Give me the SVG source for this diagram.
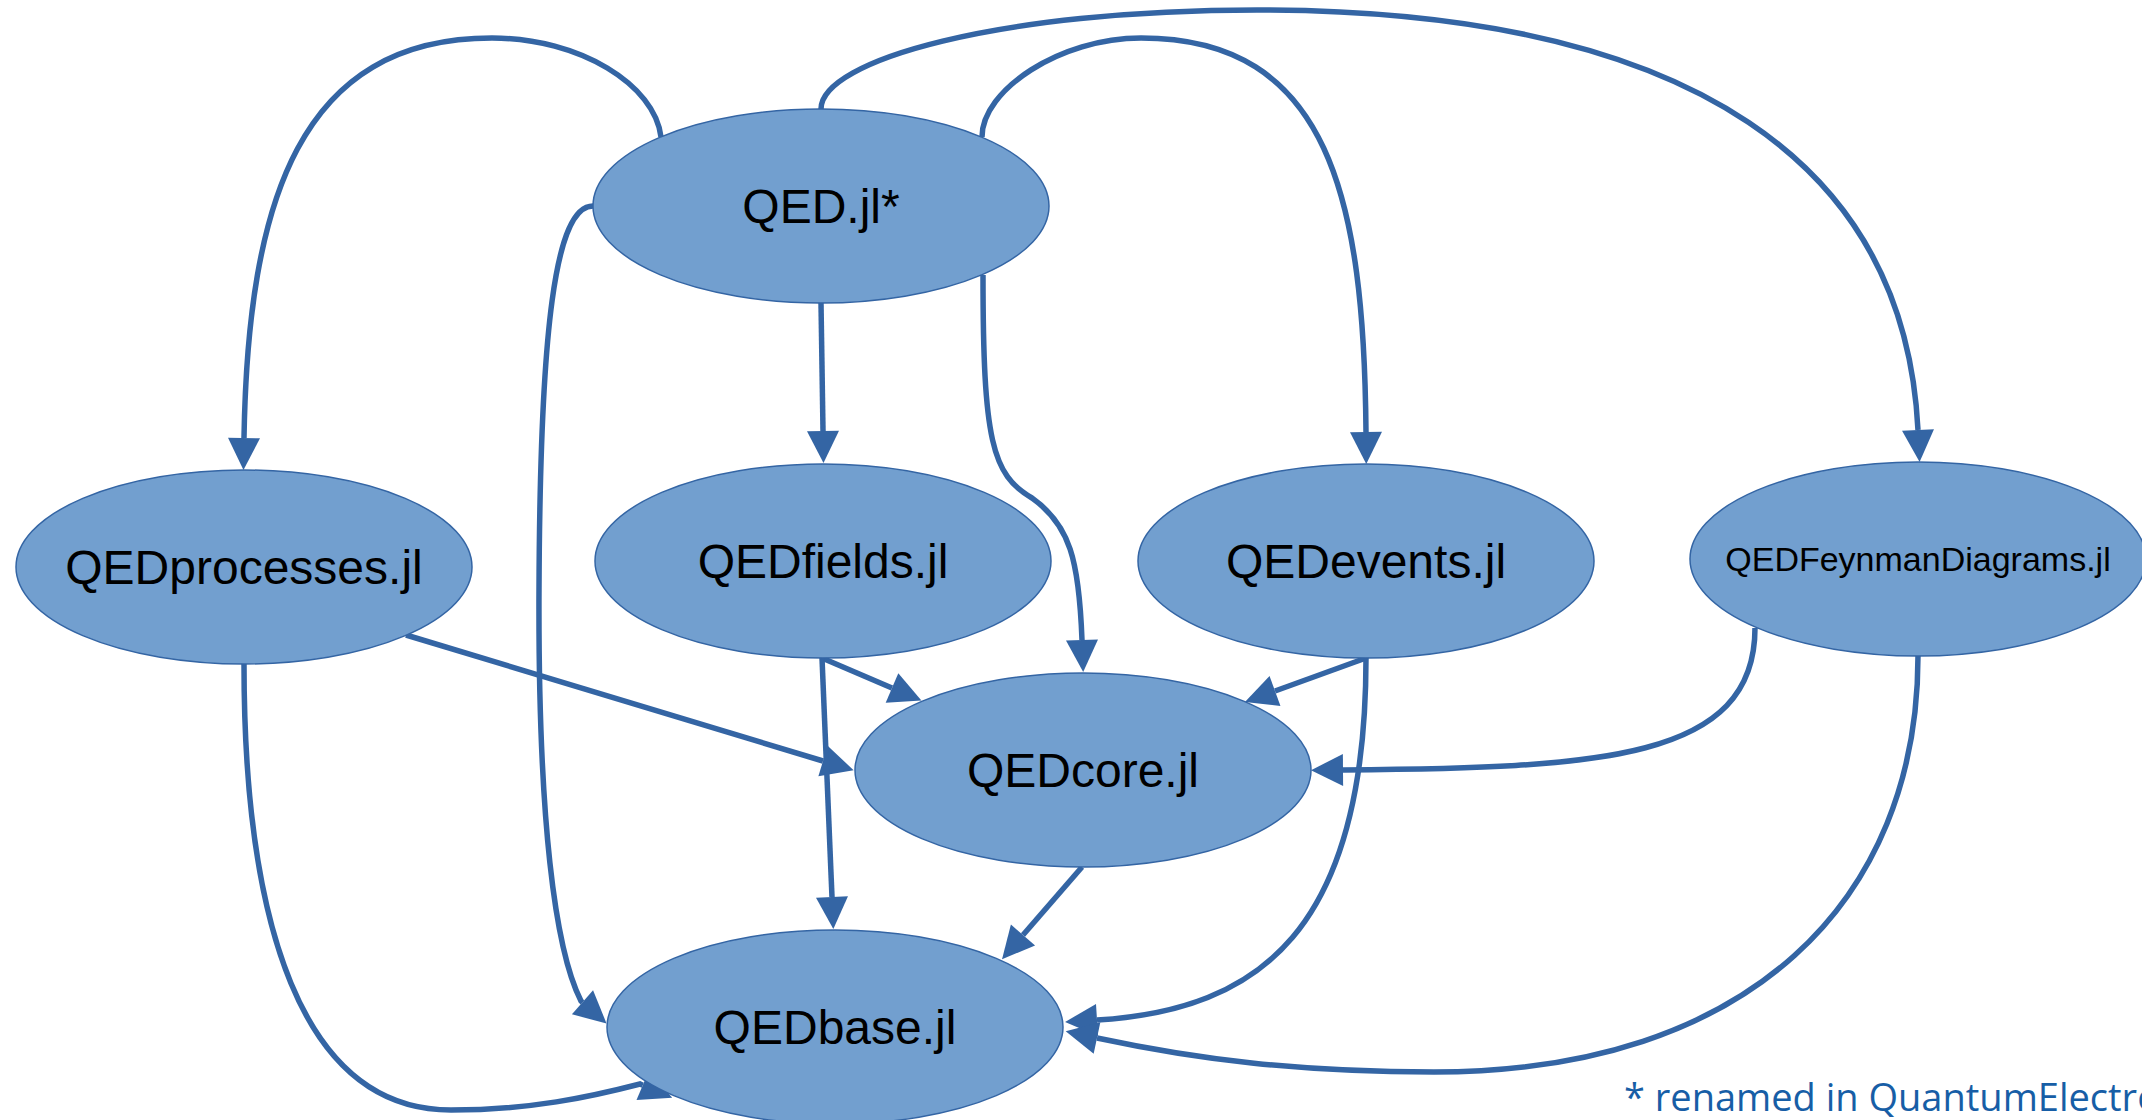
<svg xmlns="http://www.w3.org/2000/svg" width="2142" height="1120" viewBox="0 0 2142 1120">
  <style>
    .node ellipse { fill: #729fcf; stroke: #3465a4; stroke-width: 1.5; }
    .node text { font-family: "Liberation Sans", Arial, sans-serif; font-size: 48px; fill: #000; text-anchor: middle; }
    .node text.small { font-size: 34px; }
    .edge { fill: none; stroke: #3465a4; stroke-width: 5.5; marker-end: url(#arrow); }
    .note { font-family: "Open Sans", "Noto Sans", sans-serif; font-size: 38px; fill: #175ea6; }
  </style>
  <defs>
    <!-- arrowhead: base sits on the path end, tip points along the end tangent -->
    <marker id="arrow" markerUnits="userSpaceOnUse" markerWidth="32" markerHeight="32" viewBox="0 0 32 32" refX="0" refY="16" orient="auto" overflow="visible">
      <path d="M0,0 L32,16 L0,32 Z" fill="#3465a4"/>
    </marker>
  </defs>
  <rect width="2142" height="1120" fill="#ffffff"/>

  <!-- dependency connectors -->
  <g id="connectors">
    <!-- QED.jl -> QEDprocesses.jl -->
    <path class="edge" d="M661,137 C655,85 580,38 492,38 C300,38 248,200 244,438"/>
    <!-- QED.jl -> QEDFeynmanDiagrams.jl -->
    <path class="edge" d="M821,109 C821,60 1000,10 1257,10 C1700,10 1905,170 1918,430"/>
    <!-- QED.jl -> QEDevents.jl -->
    <path class="edge" d="M982,137 C982,90 1060,38 1141,38 C1330,38 1364,200 1366,432"/>
    <!-- QED.jl -> QEDfields.jl -->
    <path class="edge" d="M821,303 L823,431"/>
    <!-- QED.jl -> QEDcore.jl -->
    <path class="edge" d="M983,275 C983,440 992,475 1032,498 C1070,525 1079,560 1082,640"/>
    <!-- QED.jl -> QEDbase.jl (last short step sets the arrowhead angle) -->
    <path class="edge" d="M593,206 C555,206 540,330 539,590 C538,820 555,950 581,1001 l1.5,1.32"/>
    <!-- QEDprocesses.jl -> QEDcore.jl -->
    <path class="edge" d="M406,635 L823,761"/>
    <!-- QEDprocesses.jl -> QEDbase.jl (last short step sets the arrowhead angle) -->
    <path class="edge" d="M244,664 C244,920 300,1110 451,1110 C530,1110 590,1097 640,1084 l2.76,1.17"/>
    <!-- QEDfields.jl -> QEDcore.jl -->
    <path class="edge" d="M822,658 L892,688"/>
    <!-- QEDfields.jl -> QEDbase.jl -->
    <path class="edge" d="M822,658 L832,897"/>
    <!-- QEDevents.jl -> QEDcore.jl -->
    <path class="edge" d="M1366,658 L1275,691"/>
    <!-- QEDevents.jl -> QEDbase.jl -->
    <path class="edge" d="M1366,658 C1366,930 1260,1010 1097,1020"/>
    <!-- QEDFeynmanDiagrams.jl -> QEDcore.jl -->
    <path class="edge" d="M1755,628 C1755,760 1600,768 1343,770"/>
    <!-- QEDFeynmanDiagrams.jl -> QEDbase.jl -->
    <path class="edge" d="M1918,656 C1918,900 1750,1072 1434,1072 C1300,1072 1200,1060 1097,1038"/>
    <!-- QEDcore.jl -> QEDbase.jl -->
    <path class="edge" d="M1082,867 L1023,935"/>
  </g>

  <!-- packages -->
  <g id="node-qed" class="node">
    <ellipse cx="821" cy="206" rx="228" ry="97"/>
    <text x="821" y="223">QED.jl*</text>
  </g>
  <g id="node-qedprocesses" class="node">
    <ellipse cx="244" cy="567" rx="228" ry="97"/>
    <text x="244" y="584">QEDprocesses.jl</text>
  </g>
  <g id="node-qedfields" class="node">
    <ellipse cx="823" cy="561" rx="228" ry="97"/>
    <text x="823" y="578">QEDfields.jl</text>
  </g>
  <g id="node-qedevents" class="node">
    <ellipse cx="1366" cy="561" rx="228" ry="97"/>
    <text x="1366" y="578">QEDevents.jl</text>
  </g>
  <g id="node-qedfeynmandiagrams" class="node">
    <ellipse cx="1918" cy="559" rx="228" ry="97"/>
    <text class="small" x="1918" y="571">QEDFeynmanDiagrams.jl</text>
  </g>
  <g id="node-qedcore" class="node">
    <ellipse cx="1083" cy="770" rx="228" ry="97"/>
    <text x="1083" y="787">QEDcore.jl</text>
  </g>
  <g id="node-qedbase" class="node">
    <ellipse cx="835" cy="1027" rx="228" ry="97"/>
    <text x="835" y="1044">QEDbase.jl</text>
  </g>

  <text class="note" x="1624" y="1111">* renamed in QuantumElectrodynamics.jl</text>
</svg>
